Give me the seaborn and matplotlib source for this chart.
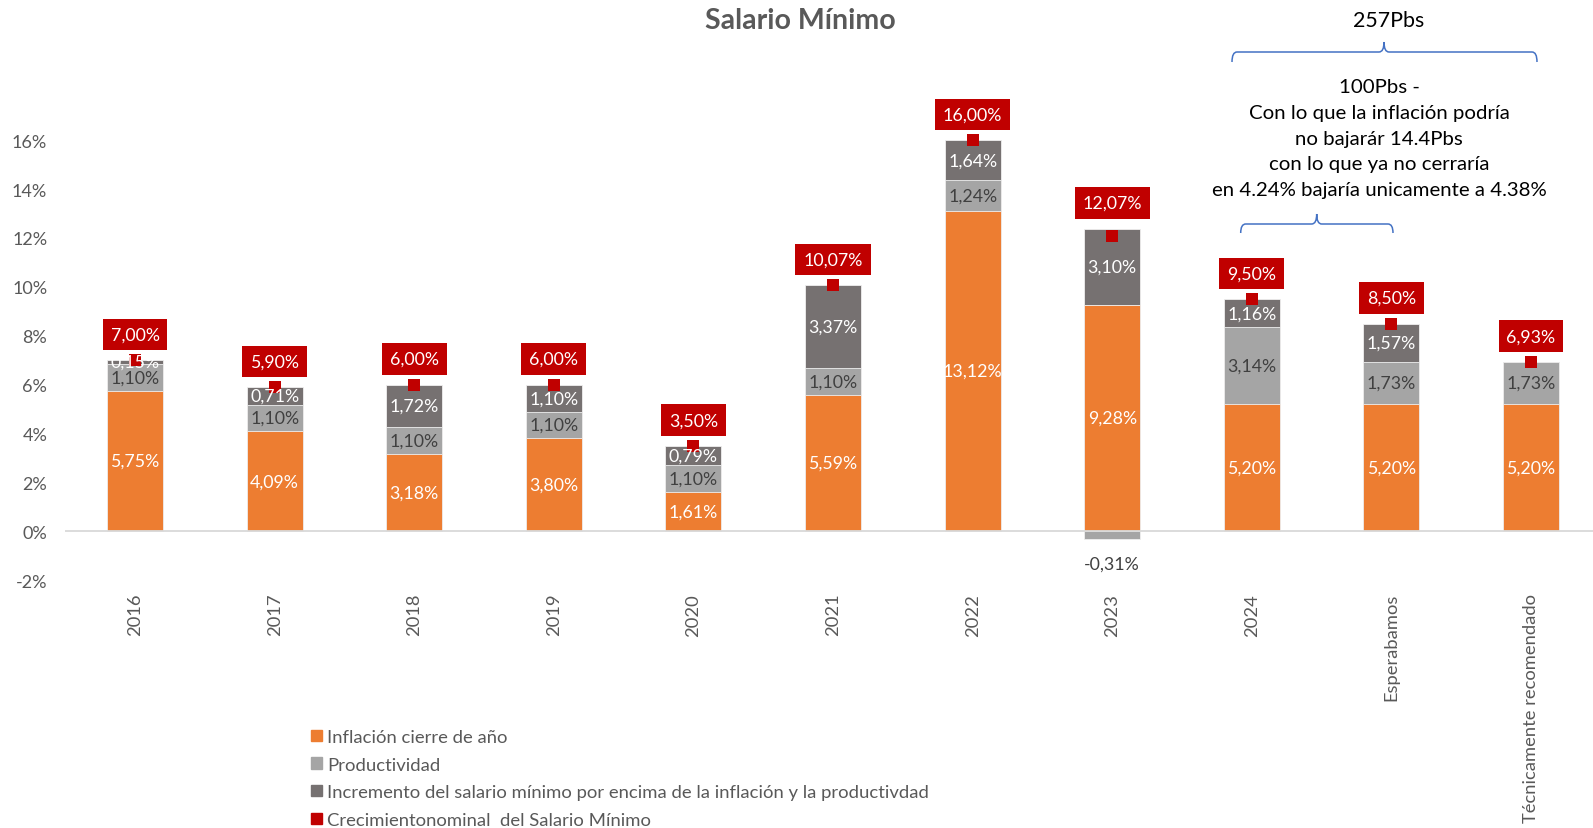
import numpy as np
import pandas as pd
import matplotlib
matplotlib.use("Agg")
import matplotlib.pyplot as plt
import seaborn as sns
from matplotlib.path import Path
from matplotlib.patches import PathPatch, Patch

# ---------------- data ----------------
categories = ["2016", "2017", "2018", "2019", "2020", "2021", "2022", "2023",
              "2024", "Esperabamos", "Técnicamente recomendado"]
inflacion = [5.75, 4.09, 3.18, 3.80, 1.61, 5.59, 13.12, 9.28, 5.20, 5.20, 5.20]
productividad = [1.10, 1.10, 1.10, 1.10, 1.10, 1.10, 1.24, -0.31, 3.14, 1.73, 1.73]
incremento = [0.15, 0.71, 1.72, 1.10, 0.79, 3.37, 1.64, 3.10, 1.16, 1.57, 0.00]
nominal = [7.00, 5.90, 6.00, 6.00, 3.50, 10.07, 16.00, 12.07, 9.50, 8.50, 6.93]
y_ticks = [-2, 0, 2, 4, 6, 8, 10, 12, 14, 16]
series_names = ["Inflación cierre de año", "Productividad",
                "Incremento del salario mínimo por encima de la inflación y la productivdad",
                "Crecimientonominal  del Salario Mínimo"]
title = "Salario Mínimo"
note_top = "257Pbs"
note_block = ("100Pbs -\nCon lo que la inflación podría\nno bajarár 14.4Pbs\n"
              "con lo que ya no cerraría\nen 4.24% bajaría unicamente a 4.38%")

# ---------------- style ----------------
C_OR = "#ED7D31"
C_LG = "#A5A5A5"
C_DG = "#767171"
C_RED = "#C00000"
C_TXT = "#595959"

sns.set_theme(style="white")
plt.rcParams["font.family"] = ["Lato", "DejaVu Sans"]

W, H = 1593, 829
fig = plt.figure(figsize=(W / 100, H / 100), dpi=100)

def fx(px):
    return px / W

def fy(py):
    return 1 - py / H

ax_left, ax_right, ax_top, ax_bot = 65.2, 1593, 92.3, 581.3
ax = fig.add_axes([fx(ax_left), fy(ax_bot), fx(ax_right - ax_left), (ax_bot - ax_top) / H])

df = pd.DataFrame({
    "cat": categories,
    "infl": inflacion,
    "prod": productividad,
    "incr": incremento,
    "nom": nominal,
})
df["prod_pos"] = df["prod"].clip(lower=0)
df["prod_neg"] = df["prod"].clip(upper=0)
df["top_prod"] = df["infl"] + df["prod_pos"]
df["top_incr"] = df["top_prod"] + df["incr"]

bw = 0.4
common = dict(data=df, x="cat", order=categories, width=bw, saturation=1, ax=ax,
              edgecolor="#EFEFEF", linewidth=0.6)
sns.barplot(y="top_incr", color=C_DG, **common)
sns.barplot(y="top_prod", color=C_LG, **common)
sns.barplot(y="infl", color=C_OR, **common)
sns.barplot(y="prod_neg", color=C_LG, **common)

ax.axhline(0, color="#D9D9D9", lw=1.3, zorder=1)

sns.stripplot(data=df, x="cat", y="nom", order=categories, jitter=False,
              marker="s", size=8, color=C_RED, linewidth=0, ax=ax, zorder=6)

lab_fs = 12.8
n = len(categories)
for i in range(n):
    inf_v, pr, inc, nom = inflacion[i], productividad[i], incremento[i], nominal[i]
    ax.text(i, inf_v / 2, f"{inf_v:.2f}%".replace(".", ","), ha="center", va="center",
            color="white", fontsize=lab_fs, zorder=7)
    if pr >= 0:
        ax.text(i, inf_v + pr / 2, f"{pr:.2f}%".replace(".", ","), ha="center", va="center",
                color="#404040", fontsize=lab_fs, zorder=7)
    else:
        ax.annotate(f"{pr:.2f}%".replace(".", ","), (i, pr), xytext=(0, -12),
                    textcoords="offset points", ha="center", va="top",
                    color="#404040", fontsize=lab_fs, zorder=7)
    if inc > 0:
        ax.text(i, inf_v + max(pr, 0) + inc / 2, f"{inc:.2f}%".replace(".", ","),
                ha="center", va="center", color="white", fontsize=lab_fs, zorder=7)
    top = max(nom, inf_v + max(pr, 0) + inc)
    ax.annotate(f"{nom:.2f}%".replace(".", ","), (i, top), xytext=(0, 18.5),
                textcoords="offset points", ha="center", va="center",
                color="white", fontsize=lab_fs, zorder=8,
                bbox=dict(boxstyle="square,pad=0.44", fc=C_RED, ec="none"))

ax.set_ylim(-2, 18)
ax.set_xlim(-0.5, 10 + (1593 - 1531) / 139.6)
ax.set_yticks(y_ticks)
ax.set_yticklabels([f"{v}%" for v in y_ticks])
ax.set_xticks(range(n))
ax.set_xticklabels(categories, rotation=90)
ax.tick_params(axis="y", length=0, pad=13, labelsize=13, labelcolor=C_TXT)
ax.tick_params(axis="x", length=0, pad=9, labelsize=13.2, labelcolor=C_TXT)
ax.set_xlabel("")
ax.set_ylabel("")
for s in ax.spines.values():
    s.set_visible(False)
ax.grid(False)

# title
fig.text(fx(800.6), fy(20.8), title, ha="center", va="center", fontsize=20.5,
         fontweight="bold", color=C_TXT)

# legend
handles = [Patch(color=C_OR), Patch(color=C_LG), Patch(color=C_DG), Patch(color=C_RED)]
fig.legend(handles, series_names, loc="upper left", bbox_to_anchor=(fx(311), fy(730)),
           frameon=False, fontsize=13.3, handlelength=0.57, handleheight=0.57,
           handletextpad=0.3, labelspacing=0.63, borderpad=0, borderaxespad=0,
           labelcolor=C_TXT)

# braces
def brace(x0, x1, xm, yt, ym, yb, r=5):
    verts = [(x0, yb), (x0, ym), (x0 + r, ym), (xm - r, ym), (xm, ym), (xm, yt),
             (xm, ym), (xm + r, ym), (x1 - r, ym), (x1, ym), (x1, yb)]
    codes = [Path.MOVETO, Path.CURVE3, Path.CURVE3, Path.LINETO, Path.CURVE3, Path.CURVE3,
             Path.CURVE3, Path.CURVE3, Path.LINETO, Path.CURVE3, Path.CURVE3]
    verts = [(fx(a), fy(b)) for a, b in verts]
    fig.add_artist(PathPatch(Path(verts, codes), fc="none", ec="#4472C4", lw=1.1,
                             transform=fig.transFigure))

brace(1232, 1537, 1384, 43, 53, 63)
brace(1240.7, 1393, 1316.7, 215, 225, 234)

fig.text(fx(1389), fy(21), note_top, ha="center", va="center", fontsize=15.4, color="black")
fig.text(fx(1379), fy(139), note_block, ha="center", va="center", fontsize=14.7,
         color="black", multialignment="center", linespacing=1.63)

fig.savefig("out.png", dpi=100)
